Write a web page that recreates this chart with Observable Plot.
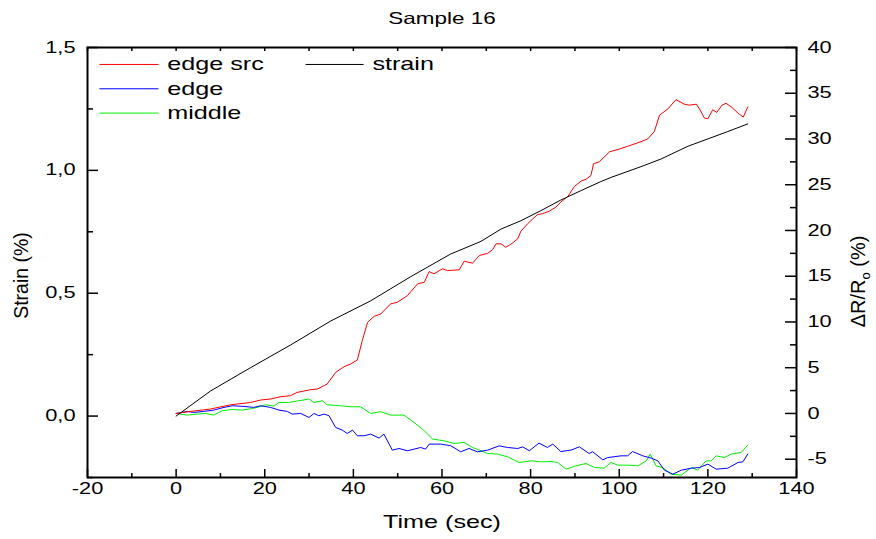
<!DOCTYPE html>
<html><head><meta charset="utf-8">
<script src="https://cdn.jsdelivr.net/npm/d3@7"></script>
<script src="https://cdn.jsdelivr.net/npm/@observablehq/plot@0.6"></script>
<style>
body{margin:0;background:#fff;}
#chart{width:876px;height:539px;}
#chart svg text{font-family:"Liberation Sans",Arial,sans-serif;}
</style></head><body><div id="chart"></div>
<script>
// ---- data ----
const title = "Sample 16";
const xLabel = "Time (sec)";
const yLeftLabel = "Strain (%)";
const yRightLabel = "ΔR/Ro (%)";

const strainTime = [0,7.75,16.8,25.8,34.9,43.9,52.9,61.9,68.8,73.3,77.8,82.3,86.8,91.3,95.8,98.1,104.9,109.4,115.5,120,124.5,129];
const strainValue = [0,0.102,0.197,0.289,0.387,0.469,0.567,0.659,0.711,0.761,0.795,0.836,0.879,0.917,0.954,0.971,1.015,1.046,1.098,1.128,1.158,1.189];

const edgeSrcTime = [0,3.2,7.7,12.3,16.8,19.1,21.3,23.6,25.8,27.3,30.4,31.9,34.1,36,37.9,39.4,40.9,42,43.2,44.7,46.2,48.4,49.9,52.2,54.5,56,57.1,58.2,60.1,61.2,63.9,65,66.9,68.4,70.3,71.4,72.2,73.3,74.4,75.5,77.1,77.8,79.3,80.5,81.6,82.7,84.2,85.7,86.8,88.4,89.9,91.4,92.5,93.6,94.2,95.5,97.8,100,101.9,104.9,106.4,107.9,109.1,111,112.8,114.7,115.8,117.4,118.1,119.2,120,121.1,122,123.2,124.1,125.3,127.1,128,129];
const edgeSrcValue = [0,0.22,0.48,0.95,1.2,1.47,1.58,1.83,1.94,2.3,2.6,2.67,3.22,4.49,5.11,5.41,5.85,7.96,9.96,10.62,10.88,11.98,12.15,12.88,14.17,14.34,15.51,15.26,15.81,15.62,15.7,16.64,16.42,17.26,17.5,17.89,18.54,18.54,18.17,18.47,19.09,19.92,20.73,21.28,21.75,21.83,22.11,22.55,23.1,23.72,24.82,25.4,25.6,26.0,27.3,27.5,28.6,28.9,29.2,29.7,30.0,30.8,32.6,33.3,34.3,33.8,33.7,33.8,33.3,32.3,32.2,33.2,32.9,33.7,33.9,33.5,32.7,32.4,33.5];

const edgeTime = [0,2.5,4,6.2,8.5,10.8,12.7,15.3,17.5,19.1,21.3,23.2,25.1,26.2,28.1,30,31.1,32.2,33.4,34.5,36,37.5,38.6,39.8,40.9,42.4,43.9,45.8,46.9,48.8,50.3,52.2,53.7,55.2,56.3,57.1,59.7,62,64.2,66.1,68,70.3,72.9,74.8,77.1,78.2,79.7,81.9,83.8,85,86.8,89.1,91,93.2,94,96.3,97.4,100.4,101.9,103,105.3,107.2,108.7,110.2,112.1,114,116.3,118.1,120,121.9,124.5,126.8,127.9,129];
const edgeValue = [0,0.22,0.11,0.22,0.37,0.66,0.84,0.77,0.66,0.84,0.66,0.37,0.22,-0.07,0,-0.44,0,-0.25,-0.07,-0.25,-1.53,-1.82,-2.19,-1.82,-2.44,-2.44,-2.26,-2.69,-2.26,-4.01,-3.83,-4.08,-3.9,-3.72,-3.9,-3.35,-3.35,-3.53,-4.19,-3.83,-4.19,-4.01,-3.54,-3.72,-3.83,-3.65,-4.08,-3.24,-3.72,-3.35,-4.16,-4.01,-3.65,-4.38,-4.19,-5.07,-4.82,-4.63,-4.63,-4.16,-4.63,-4.88,-5.18,-6.2,-6.64,-6.2,-5.98,-5.91,-5.54,-6.09,-5.98,-5.36,-5.29,-4.44];

const middleTime = [0,2.5,4.7,6.6,8.5,10.4,12.7,14.9,16.8,18.3,20.2,22.1,23.2,25.4,27.7,30,31.1,33,34.1,37.1,39.4,41.6,43.9,46.2,48.4,51.4,53.7,56,57.9,60.5,62.7,65,66.9,68.8,70.3,72.5,74.8,77.4,80.1,82.3,84.6,86.1,88,90.2,92.5,94.4,96.6,98.1,99.7,101.9,104.2,106.1,107,108.3,109.8,111.7,114,116.3,117.7,119.6,120.8,121.9,123.7,125.3,127.5,129];
const middleValue = [0,-0.18,-0.07,0,-0.18,0.3,0.44,0.37,0.51,0.66,0.95,0.81,1.2,1.2,1.39,1.58,1.2,1.39,0.95,0.84,0.73,0.73,0,0.19,-0.18,-0.18,-0.99,-1.89,-2.8,-2.99,-3.28,-3.17,-3.72,-4.08,-4.38,-4.44,-4.74,-5.36,-5.18,-5.29,-5.25,-5.36,-6.09,-5.73,-5.47,-5.91,-5.98,-5.36,-5.65,-5.65,-5.73,-5.18,-4.44,-5.73,-5.91,-6.64,-6.74,-5.91,-6.2,-5.18,-5.18,-4.63,-4.82,-4.44,-4.27,-3.46];

const xTicks = [-20,0,20,40,60,80,100,120,140];
const xMinorTicks = [-10,10,30,50,70,90,110,130];
const leftTicks = [0,0.5,1.0,1.5];
const leftTickLabels = ["0,0","0,5","1,0","1,5"];
const leftMinorTicks = [-0.25,0.25,0.75,1.25];
const rightTicks = [-5,0,5,10,15,20,25,30,35,40];
const rightMinorTicks = [-2.5,2.5,7.5,12.5,17.5,22.5,27.5,32.5,37.5];

const legendLabels = ["edge src","edge","middle","strain"];
const seriesColors = {"edge src":"#ff0000","edge":"#0000ff","middle":"#00ee00","strain":"#000000"};

// ---- scales ----
const xDomain = [-20,140];
const leftDomain = [-0.25,1.5];
const rightDomain = [-7,40];
const toLeft = v => leftDomain[0] + (v - rightDomain[0]) * (leftDomain[1]-leftDomain[0]) / (rightDomain[1]-rightDomain[0]);

const rows = (ts, vs, f = d => d) => ts.map((t,i) => ({t, y: f(vs[i])}));
const strainRows = rows(strainTime, strainValue);
const edgeSrcRows = rows(edgeSrcTime, edgeSrcValue, toLeft);
const edgeRows = rows(edgeTime, edgeValue, toLeft);
const middleRows = rows(middleTime, middleValue, toLeft);

// legend layout (in data units of the x / left-y scales)
const legendLayout = [
  {x1:-17.3, x2:-4.0, xt:-2.0, y:1.431},
  {x1:-17.3, x2:-4.0, xt:-2.0, y:1.332},
  {x1:-17.3, x2:-4.0, xt:-2.0, y:1.233},
  {x1:29.2, x2:42.3, xt:44.3, y:1.431}
];
const legendRows = legendLabels.map((label,i) => ({label, color: seriesColors[label], ...legendLayout[i]}));

const W = 876, H = 539, mL = 87, mR = 80, mT = 47, mB = 62;
const FW = W - mL - mR, FH = H - mT - mB;
const tickFont = 16;

const plot = Plot.plot({
  width: W, height: H,
  marginLeft: mL, marginRight: mR, marginTop: mT, marginBottom: mB,
  style: {background: "#fff", overflow: "visible"},
  x: {domain: xDomain, axis: null},
  y: {domain: leftDomain, axis: null},
  marks: [
    Plot.line(middleRows, {x: "t", y: "y", stroke: seriesColors["middle"], strokeWidth: 1}),
    Plot.line(edgeRows, {x: "t", y: "y", stroke: seriesColors["edge"], strokeWidth: 1}),
    Plot.line(edgeSrcRows, {x: "t", y: "y", stroke: seriesColors["edge src"], strokeWidth: 1}),
    Plot.line(strainRows, {x: "t", y: "y", stroke: seriesColors["strain"], strokeWidth: 1}),
    // inward ticks
    Plot.tickY(leftTicks, {y: d => d, insetRight: FW - 11, stroke: "#000", strokeWidth: 1.5}),
    Plot.tickY(leftMinorTicks, {y: d => d, insetRight: FW - 6, stroke: "#000", strokeWidth: 1.5}),
    Plot.tickY(rightTicks, {y: d => toLeft(d), insetLeft: FW - 11, stroke: "#000", strokeWidth: 1.5}),
    Plot.tickY(rightMinorTicks, {y: d => toLeft(d), insetLeft: FW - 6, stroke: "#000", strokeWidth: 1.5}),
    Plot.tickX(xTicks, {x: d => d, insetTop: FH - 8, stroke: "#000", strokeWidth: 1.5}),
    Plot.tickX(xMinorTicks, {x: d => d, insetTop: FH - 4, stroke: "#000", strokeWidth: 1.5}),
    Plot.tickX(xTicks.concat(xMinorTicks), {x: d => d, insetBottom: FH - 4, stroke: "#000", strokeWidth: 1.5}),
    Plot.frame({stroke: "#000", strokeWidth: 2}),
    // tick labels
    Plot.text(leftTicks, {y: d => d, text: (d,i) => leftTickLabels[i], frameAnchor: "left", textAnchor: "end", dx: -12, fontSize: tickFont, fill: "#000"}),
    Plot.text(rightTicks, {y: d => toLeft(d), text: d => String(d), frameAnchor: "right", textAnchor: "start", dx: 11, fontSize: tickFont, fill: "#000"}),
    Plot.text(xTicks, {x: d => d, text: d => String(d), frameAnchor: "bottom", lineAnchor: "middle", dy: 11, fontSize: tickFont, fill: "#000"}),
    // titles
    Plot.text([xLabel], {text: d => d, frameAnchor: "bottom", lineAnchor: "middle", dy: 45, fontSize: 18.5, fill: "#000"}),
    Plot.text([yLeftLabel], {text: d => d, frameAnchor: "left", textAnchor: "middle", lineAnchor: "middle", rotate: -90, dx: -66, dy: 13, fontSize: 19.5, fill: "#000"}),
    Plot.text([yRightLabel], {text: d => d, frameAnchor: "right", textAnchor: "middle", lineAnchor: "middle", rotate: -90, dx: 62, dy: 19, fontSize: 20, fill: "#000"}),
    Plot.text([title], {text: d => d, frameAnchor: "top", lineAnchor: "middle", dy: -29, fontSize: 16.5, fill: "#000"}),
    // legend
    Plot.link(legendRows, {x1: "x1", x2: "x2", y1: "y", y2: "y", stroke: "color", strokeWidth: 1}),
    Plot.text(legendRows, {x: "xt", y: "y", text: "label", textAnchor: "start", lineAnchor: "middle", fontSize: 18.5, fill: "#000"})
  ]
});
document.getElementById("chart").append(plot);

// horizontal stretch of upright text, as in the reference rendering
const stretch = 1.36;
plot.querySelectorAll("text").forEach(t => {
  const tr = t.getAttribute("transform") || "";
  if (tr.includes("rotate")) return;
  const len = t.getComputedTextLength();
  if (len > 0) {
    t.setAttribute("textLength", (len * stretch).toFixed(1));
    t.setAttribute("lengthAdjust", "spacingAndGlyphs");
  }
});
// subscript in the right-hand axis title
plot.querySelectorAll("text").forEach(t => {
  if (t.textContent === yRightLabel) {
    const sel = d3.select(t);
    sel.text(null);
    sel.append("tspan").text("ΔR/R");
    sel.append("tspan").attr("dy", 5).attr("font-size", 13).text("o");
    sel.append("tspan").attr("dy", -5).text(" (%)");
  }
});
</script></body></html>
